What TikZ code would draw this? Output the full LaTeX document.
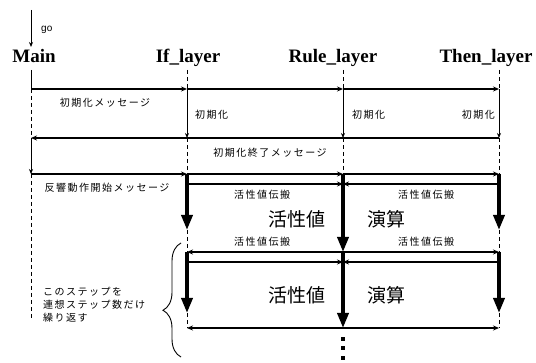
\documentclass[tikz,border=0pt]{standalone}
\usepackage{fontspec}
\setmainfont{Liberation Serif}
\newfontfamily\jp[LetterSpace=15]{Noto Sans CJK JP}
\newfontfamily\jpbig{Noto Sans CJK JP}
\newfontfamily\lsans{Liberation Sans}
\usetikzlibrary{arrows.meta,decorations.pathreplacing}
\begin{document}
\begin{tikzpicture}[x=1pt,y=-1pt,
  thinarrow/.style={line width=1.1pt,-{Stealth[length=6pt,width=5pt]}},
  thinline/.style={line width=1.1pt},
  vthin/.style={line width=0.8pt,-{Stealth[length=5pt,width=4pt]}},
  thickarrow/.style={line width=3.5pt,-{Triangle[length=15pt,width=11pt]}},
  lifedash/.style={line width=0.8pt,dash pattern=on 4pt off 3pt},
  title/.style={font=\bfseries\fontsize{19}{19}\selectfont,anchor=base,inner sep=0pt},
  small/.style={font=\jp\fontsize{10}{13}\selectfont,inner sep=0pt},
  big/.style={font=\jpbig\fontsize{19}{19}\selectfont,inner sep=0pt},
  dot/.style={fill=black,minimum size=4pt,inner sep=0pt},
]
\useasboundingbox (0,0) rectangle (536,363);
% lifeline coordinates
\foreach \n/\x in {M/31,I/187,R/343,T/499}{
  \foreach \k/\y in {a/70,b/89,c/138,d/174,e/184,f/230,g/252,h/262,i/313,j/328,k/320}{
    \coordinate (\n\k) at (\x,\y);
  }
}
\coordinate (go0) at (31,10);
\coordinate (go1) at (31,47);
\coordinate (brB) at (181,357);
\coordinate (brT) at (181,243);

% titles
\node[title] (tM) at (34,63) {Main};
\node[title] (tI) at (188,63) {If\_layer};
\node[title] (tR) at (333,63) {Rule\_layer};
\node[title] (tT) at (486,63) {Then\_layer};
\node[font=\lsans\fontsize{10}{10}\selectfont,anchor=west,inner sep=0pt] (go) at (41,30) {go};
\draw[vthin] (go0) -- (go1);

% lifelines
\draw[line width=0.8pt] (Ma) -- (Mb);
\draw[lifedash] (Ia) -- (Ib);
\draw[lifedash] (Ra) -- (Rb);
\draw[lifedash] (Ta) -- (Tb);
\draw[lifedash] (Mb) -- (Mc);
\draw[lifedash] (Md) -- (Mk);
\draw[lifedash] (Ic) -- (Id);
\draw[lifedash] (Rc) -- (Rd);
\draw[lifedash] (Tc) -- (Td);
\draw[lifedash] (If) -- (Ig);
\draw[lifedash] (Tf) -- (Tg);
\draw[lifedash] (Ii) -- (Ij);
\draw[lifedash] (Ti) -- (Tj);

% initialisation
\draw[thinarrow] (Mb) -- (Ib);
\draw[thinarrow] (Ib) -- (Rb);
\draw[thinarrow] (Rb) -- (Tb);
\draw[vthin] (Ib) -- (Ic);
\draw[vthin] (Rb) -- (Rc);
\draw[vthin] (Tb) -- (Tc);
\draw[thinarrow] (Tc) -- (Mc);
\draw[vthin] (Mc) -- (Md);

% echo start
\draw[thinarrow] (Md) -- (Id);
\draw[thinarrow] (Id) -- (Rd);
\draw[thinarrow] (Rd) -- (Td);
\draw[thinarrow] (Ie) -- (Re);
\draw[thinarrow] (Te) -- (Re);
\draw[thickarrow] (Id) -- (If);
\draw[thickarrow] (Td) -- (Tf);
\draw[thickarrow] (Rd) -- (Rg);

% repeated step
\draw[thinarrow] (Rg) -- (Ig);
\draw[thinarrow] (Rg) -- (Tg);
\draw[thinarrow] (Ih) -- (Rh);
\draw[thinarrow] (Th) -- (Rh);
\draw[thickarrow] (Ig) -- (Ii);
\draw[thickarrow] (Tg) -- (Ti);
\draw[thickarrow] (Rg) -- (Rj);
\draw[thinarrow] (Rj) -- (Ij);
\draw[thinarrow] (Rj) -- (Tj);

\node[dot] (d1) at (343,339) {};
\node[dot] (d2) at (343,348) {};
\node[dot] (d3) at (343,358) {};

\draw[line width=0.9pt,decorate,decoration={brace,amplitude=18pt,aspect=0.41}] (brB) -- (brT);

% labels
\node[small] (l1) at (105,103) {初期化メッセージ};
\node[small,anchor=west] (l2) at (195,115) {初期化};
\node[small,anchor=west] (l3) at (352,115) {初期化};
\node[small,anchor=east] (l4) at (495,115) {初期化};
\node[small] (l5) at (270,153) {初期化終了メッセージ};
\node[small] (l6) at (107,188) {反響動作開始メッセージ};
\node[small] (l7) at (262,195) {活性値伝搬};
\node[small] (l8) at (426,195) {活性値伝搬};
\node[small] (l9) at (262,242) {活性値伝搬};
\node[small] (l10) at (426,242) {活性値伝搬};
\node[big] (b1) at (297,219) {活性値};
\node[big] (b2) at (386,219) {演算};
\node[big] (b3) at (297,295) {活性値};
\node[big] (b4) at (386,295) {演算};
\node[small,anchor=west,align=left] (rep) at (43,305) {このステップを\\連想ステップ数だけ\\繰り返す};
\end{tikzpicture}
\end{document}
